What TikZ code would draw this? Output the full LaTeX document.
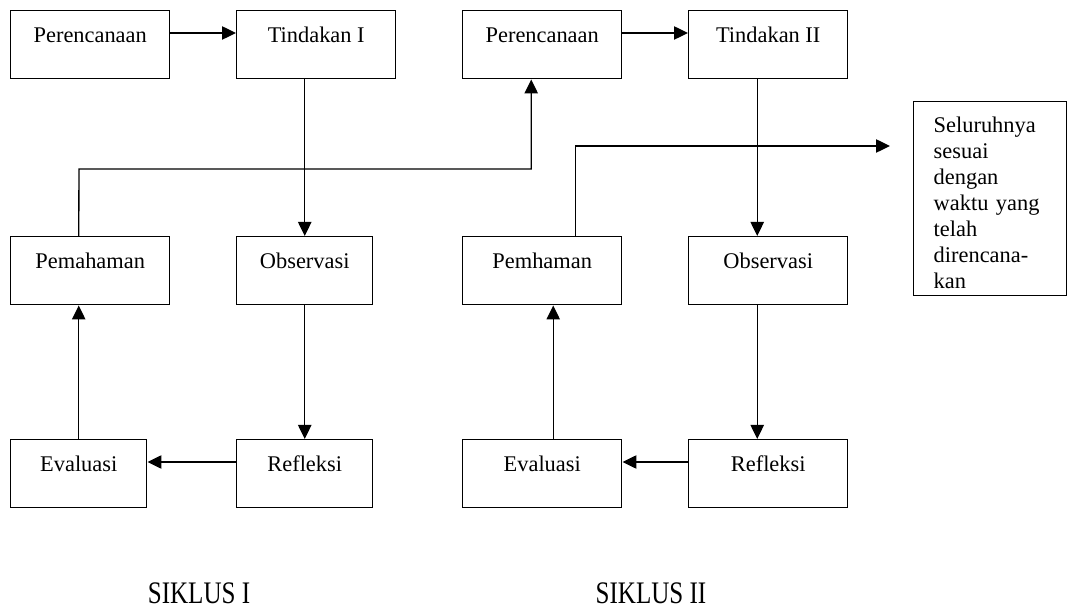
\documentclass[tikz,border=0pt]{standalone}
\usepackage{fontspec}
\setmainfont{Liberation Serif}
\usetikzlibrary{arrows.meta}

\begin{document}
\begin{tikzpicture}[x=0.75pt, y=-0.75pt,
    kotak/.style={draw, rectangle, line width=1.1pt, anchor=north west, inner sep=0pt,
        text height=24pt, text depth=27pt, font=\fontsize{16.8}{19.5}\selectfont},
    lebar/.style={minimum width=119.25pt},
    sempit/.style={minimum width=102pt},
    panah/.style={-{Triangle[length=10.5pt, width=10pt]}, line width=1pt},
    siklus/.style={anchor=base, xscale=0.8, transform shape, font=\fontsize{23.5}{26}\selectfont}]
    \useasboundingbox (0,0) rectangle (1068,616);

    \node[kotak, lebar] (p1) at (10,10) {Perencanaan};
    \node[kotak, lebar] (t1) at (236,10) {Tindakan I};
    \node[kotak, lebar] (p2) at (462,10) {Perencanaan};
    \node[kotak, lebar] (t2) at (688,10) {Tindakan II};

    \node[kotak, lebar] (pm1) at (10,236) {Pemahaman};
    \node[kotak, sempit] (o1) at (236,236) {Observasi};
    \node[kotak, lebar] (pm2) at (462,236) {Pemhaman};
    \node[kotak, lebar] (o2) at (688,236) {Observasi};

    \node[kotak, sempit] (e1) at (10,439) {Evaluasi};
    \node[kotak, sempit] (r1) at (236,439) {Refleksi};
    \node[kotak, lebar] (e2) at (462,439) {Evaluasi};
    \node[kotak, lebar] (r2) at (688,439) {Refleksi};

    \node[kotak, align=left, text width=84.75pt, inner xsep=15pt, text height=23.25pt,
        text depth=122.25pt] (akhir) at (913,101)
        {Seluruhnya\\sesuai\\dengan\\waktu yang\\telah\\direncana-\\kan};

    \node[siklus] (s1) at (199,603) {SIKLUS I};
    \node[siklus] (s2) at (651,603) {SIKLUS II};

    \coordinate (belok) at (79,169);
    \coordinate (ujung) at (890,146);

    \draw[panah] ([yshift=-17.25pt]p1.north east) -- ([yshift=-17.25pt]t1.north west);
    \draw[panah] ([yshift=-17.25pt]p2.north east) -- ([yshift=-17.25pt]t2.north west);
    \draw[panah] (o1.north |- t1.south) -- (o1.north);
    \draw[panah] (o1.south) -- (r1.north);
    \draw[panah] ([yshift=-17.25pt]r1.north west) -- ([yshift=-17.25pt]e1.north east);
    \draw[panah] (e1.north) -- (e1.north |- pm1.south);
    \draw[panah] (e1.north |- pm1.north) -- (belok) -| ([xshift=-8.25pt]p2.south);

    \draw[panah] ([xshift=-8.25pt]t2.south) -- ([xshift=-8.25pt]o2.north);
    \draw[panah] ([xshift=-8.25pt]o2.south) -- ([xshift=-8.25pt]r2.north);
    \draw[panah] ([yshift=-17.25pt]r2.north west) -- ([yshift=-17.25pt]e2.north east);
    \draw[panah] ([xshift=8.25pt]e2.north) -- ([xshift=8.25pt]pm2.south);
    \draw[panah] ([xshift=25pt]pm2.north) |- (ujung);
\end{tikzpicture}
\end{document}
